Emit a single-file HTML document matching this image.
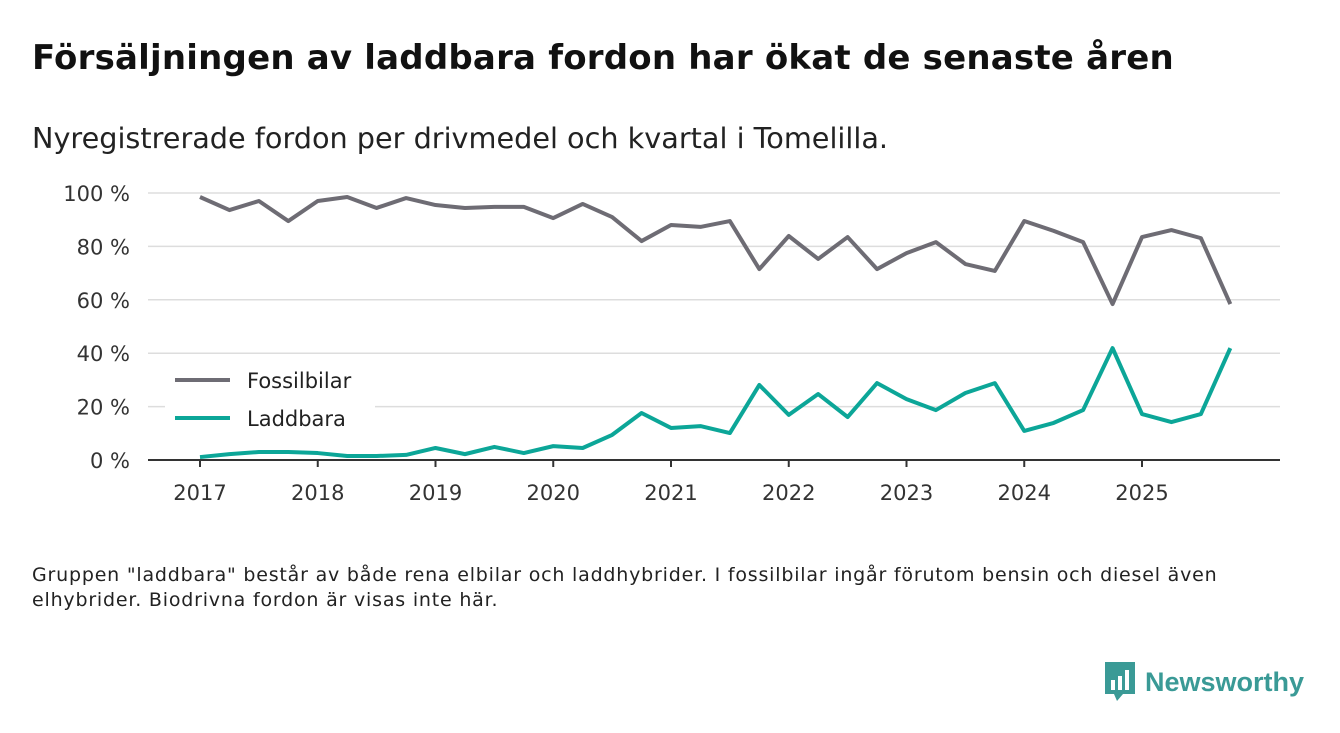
<!DOCTYPE html>
<html><head><meta charset="utf-8">
<style>
body{margin:0;width:1340px;height:733px;background:#fff;font-family:"DejaVu Sans","Liberation Sans",sans-serif;overflow:hidden;position:relative}
h1{position:absolute;left:32px;top:38px;margin:0;font-size:34px;font-weight:bold;color:#111;letter-spacing:0.2px;white-space:nowrap}
.sub{position:absolute;left:32px;top:121px;font-size:28.7px;color:#222;white-space:nowrap}
.note{position:absolute;left:32px;top:563px;font-size:19px;letter-spacing:0.8px;line-height:25px;color:#222;width:1260px}
.logo{position:absolute;left:1103px;top:662px;display:flex;align-items:center}
.logo span{font-size:27px;font-weight:bold;color:#3a9a96;margin-left:8px;font-family:"Liberation Sans",sans-serif}
</style></head><body>
<h1>Försäljningen av laddbara fordon har ökat de senaste åren</h1>
<div class="sub">Nyregistrerade fordon per drivmedel och kvartal i Tomelilla.</div>
<svg id="chart" width="1340" height="733" style="position:absolute;left:0;top:0;font-family:'DejaVu Sans',sans-serif"></svg>
<div class="note">Gruppen "laddbara" består av både rena elbilar och laddhybrider. I fossilbilar ingår förutom bensin och diesel även<br>elhybrider. Biodrivna fordon är visas inte här.</div>
<div class="logo">
<svg width="34" height="40" viewBox="0 0 34 40"><path d="M2 0h30v32H20l-6 7-3-7H2z" fill="#3a9a96"/><rect x="8" y="18" width="4" height="10" fill="#fff"/><rect x="15" y="14" width="4" height="14" fill="#fff"/><rect x="22" y="8" width="4" height="20" fill="#fff"/></svg>
<span>Newsworthy</span></div>
<script>
const yTicks=[0,20,40,60,80,100];
const years=[2017,2018,2019,2020,2021,2022,2023,2024,2025];
const fossil=[98.5,93.6,97,89.5,97,98.5,94.4,98.1,95.5,94.4,94.8,94.8,90.6,95.9,91,82,88,87.3,89.5,71.5,83.9,75.3,83.5,71.5,77.5,81.6,73.4,70.8,89.5,85.8,81.6,58.4,83.5,86.1,83.1,58.4];
const laddbara=[1.1,2.2,3,3,2.6,1.5,1.5,1.9,4.5,2.2,4.9,2.6,5.2,4.5,9.4,17.6,12,12.7,10.1,28.1,16.9,24.7,16.1,28.8,22.8,18.7,25.1,28.8,10.9,13.9,18.7,41.9,17.2,14.2,17.2,41.9];
const NS="http://www.w3.org/2000/svg",svg=document.getElementById('chart');
const X=t=>200+(t-2017)*117.75, Y=v=>460-v*2.67;
function mk(tag,a,txt){const e=document.createElementNS(NS,tag);for(const k in a)e.setAttribute(k,a[k]);if(txt!=null)e.textContent=txt;svg.appendChild(e);return e;}
yTicks.forEach(v=>{
 if(v>0){const g=mk('line',{x1:148,x2:1280,y1:Y(v),y2:Y(v),stroke:'#ddd','stroke-width':1.5});
 
 }
 const t=mk('text',{x:130,y:Y(v)+8,'text-anchor':'end','font-size':21,fill:'#333'},v+' %');
 
 
});
const ax=mk('line',{x1:148,x2:1280,y1:460,y2:460,stroke:'#333','stroke-width':2});


years.forEach(y=>{
 const tk=mk('line',{x1:X(y),x2:X(y),y1:460,y2:467,stroke:'#333','stroke-width':2});
 
 
 const t=mk('text',{x:X(y),y:500,'text-anchor':'middle','font-size':21,fill:'#333'},y);
 
 
});
function line(data,color,name){
 const d=data.map((v,i)=>(i?'L':'M')+X(2017+i/4)+','+Y(v)).join('');
 const p=mk('path',{d:d,fill:'none',stroke:color,'stroke-width':4,'stroke-linejoin':'round'});
 
 
}
line(fossil,'#6e6c74','fossilbilar-line');
line(laddbara,'#0ca698','laddbara-line');
const bg=mk('rect',{x:165,y:362,width:210,height:74,fill:'#fff'});


[['Fossilbilar','#6e6c74',380],['Laddbara','#0ca698',418]].forEach(([n,c,y])=>{
 const l=mk('line',{x1:175,x2:230,y1:y,y2:y,stroke:c,'stroke-width':4});
 
 
 const t=mk('text',{x:247,y:y+8,'font-size':21,fill:'#222'},n);
 
 
});
</script>
</body></html>
